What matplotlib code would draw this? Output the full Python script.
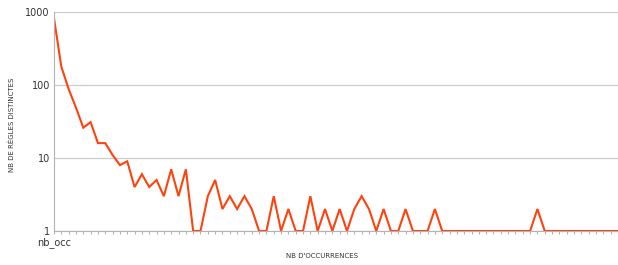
import matplotlib.pyplot as plt

# nombre de règles distinctes par nombre d'occurrences
occ = list(range(78))
nb_regles = [820, 178, 88, 49, 26, 31, 16, 16, 11, 8,
             9, 4, 6, 4, 5, 3, 7, 3, 7, 1,
             1, 3, 5, 2, 3, 2, 3, 2, 1, 1,
             3, 1, 2, 1, 1, 3, 1, 2, 1, 2,
             1, 2, 3, 2, 1, 2, 1, 1, 2, 1,
             1, 1, 2, 1, 1, 1, 1, 1, 1, 1,
             1, 1, 1, 1, 1, 1, 2, 1, 1, 1,
             1, 1, 1, 1, 1, 1, 1, 1]
xlabels = ['nb_occ'] + [''] * 77
yticks = [1, 10, 100, 1000]

fig = plt.figure(figsize=(6.18, 2.65), dpi=100)
ax = fig.add_axes([54/618, 1-231/265, 564/618, 219/265])

ax.plot(occ, nb_regles, color='#ff420e', lw=1.5, solid_joinstyle='miter')
ax.set_yscale('log')
ax.set_ylim(1, 1000)
ax.set_xlim(0, 77)
ax.set_yticks(yticks)
ax.set_yticklabels([str(v) for v in yticks])
ax.minorticks_off()
ax.set_xticks(occ)
ax.set_xticklabels(xlabels)
ax.grid(axis='y', color='#cccccc', lw=0.9)
ax.set_axisbelow(True)

for s in ['top', 'right']:
    ax.spines[s].set_visible(False)
for s in ['left', 'bottom']:
    ax.spines[s].set_color('#b3b3b3')
    ax.spines[s].set_linewidth(0.8)
ax.tick_params(axis='x', length=2.5, color='#b3b3b3', labelsize=7, pad=2, labelcolor='#333333')
ax.tick_params(axis='y', length=0, labelsize=7, pad=3, labelcolor='#333333')

fig.text(12/618, 1-125/265, "NB DE RÈGLES DISTINCTES", rotation=90, fontsize=5,
         ha='center', va='center', color='#333333')
fig.text(322/618, 1-256/265, "NB D'OCCURRENCES", fontsize=5,
         ha='center', va='center', color='#333333')

fig.savefig('out.png', dpi=100)
